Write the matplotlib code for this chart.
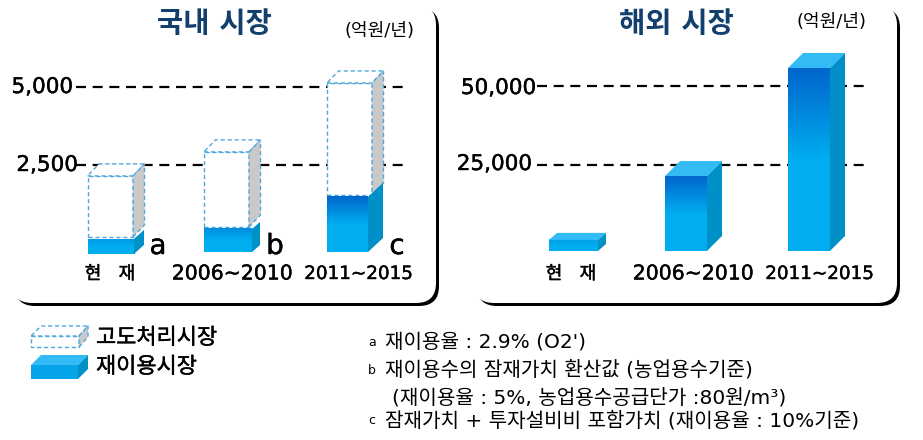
import matplotlib

matplotlib.use("Agg")
import matplotlib.patheffects as pe
import matplotlib.pyplot as plt
import numpy as np
from matplotlib.colors import LinearSegmentedColormap
from matplotlib.patches import FancyBboxPatch, Polygon, Rectangle

plt.rcParams["font.family"] = ["DejaVu Sans", "Noto Sans CJK KR"]

W, H = 923, 440

periods = ["현   재", "2006~2010", "2011~2015"]
bar_notes = ["a", "b", "c"]

# domestic market, 억원/년
dom_ticks = [2500, 5000]
dom_tick_labels = ["2,500", "5,000"]
dom_total = [2150, 2920, 5130]
dom_reuse = [130, 450, 1480]
dom_base = [-350, -290, -290]

# overseas market, 억원/년
ovs_ticks = [25000, 50000]
ovs_tick_labels = ["25,000", "50,000"]
ovs_values = [1300, 21500, 55700]
ovs_base = [-2200, -2200, -2200]

legend_labels = ["고도처리시장", "재이용시장"]
notes = [
    ("a", "재이용율 : 2.9% (O2')"),
    ("b", "재이용수의 잠재가치 환산값 (농업용수기준)"),
    ("", "(재이용율 : 5%, 농업용수공급단가 :80원/m³)"),
    ("c", "잠재가치 + 투자설비비 포함가치 (재이용율 : 10%기준)"),
]

# layout, in reference pixels
dom_x = [(87.5, 133), (204, 249), (327, 372)]
dom_reuse_x = [(87.5, 134), (204, 252), (327, 368)]
dom_reuse_depth = [(10, 9), (8, 7), (15, 14)]
dom_rim = 2  # the dashed box starts a little above the blue front
ovs_x = [(549, 598), (665, 707), (788, 830)]
ovs_depth = [(8, 7), (15, 15), (15, 15)]

NAVY = "#123F6D"
TOP = "#33BBF5"
SIDE = "#0090C8"
GRAY = "#C9C9C9"
DASH = "#4FA8DC"
DASHES = (0, (3, 2))
DARK, LIGHT = np.array([0.0, 0.40, 0.80]), np.array([0.0, 0.68, 0.94])
THICK = [pe.withStroke(linewidth=0.3, foreground="black")]

fig = plt.figure(figsize=(W / 100, H / 100), dpi=100)
bg = fig.add_axes([0, 0, 1, 1])
bg.set_xlim(0, W)
bg.set_ylim(H, 0)
bg.axis("off")


def panel_box(x0, x1, y0, y1):
    pad = "round,pad=0,rounding_size=20"
    bg.add_patch(FancyBboxPatch((x0, y0), x1 - x0, y1 - y0, boxstyle=pad, fc="black", ec="none"))
    bg.add_patch(FancyBboxPatch((x0 - 3, y0 - 3), x1 - x0, y1 - y0, boxstyle=pad, fc="white", ec="none"))


def make_panel(x0, x1, ticks, rows):
    # ticks sit at known pixel rows, the rest of the scale follows from them
    per_px = (ticks[1] - ticks[0]) / (rows[0] - rows[1])
    ax = fig.add_axes([x0 / W, 1 - 300 / H, (x1 - x0) / W, 300 / H])
    ax.axis("off")
    ax.patch.set_alpha(0)
    return ax, per_px


def set_limits(ax, x0, x1, tick, row, per_px):
    ax.set_xlim(x0, x1)
    ax.set_ylim(tick - (300 - row) * per_px, tick + row * per_px)


def solid_box(ax, x0, x1, base, top, dx, dy, per_px, top_face=True):
    # dark at the top of the face, light further down; short bars stay lighter
    strength = min(1.0, (top - base) / (50 * per_px))
    start = DARK * strength + LIGHT * (1 - strength)
    cmap = LinearSegmentedColormap.from_list("face", [start, LIGHT, LIGHT], N=128)
    grad = np.linspace(0, 1, 128).reshape(-1, 1)
    ax.imshow(grad, cmap=cmap, extent=(x0, x1, base, top), origin="upper", aspect="auto", zorder=3)
    if top_face:
        ax.add_patch(Polygon([(x0, top), (x1, top), (x1 + dx, top + dy * per_px), (x0 + dx, top + dy * per_px)], fc=TOP, ec="none", zorder=3))
    ax.add_patch(Polygon([(x1, base), (x1 + dx, base + dy * per_px), (x1 + dx, top + dy * per_px), (x1, top)], fc=SIDE, ec="none", zorder=3))


def dashed_box(ax, x0, x1, bottom, top, dx, dy):
    ax.add_patch(Rectangle((x0, bottom), x1 - x0, top - bottom, fc="white", ec=DASH, lw=1, ls=DASHES, zorder=2))
    ax.add_patch(Polygon([(x0, top), (x1, top), (x1 + dx, top + dy), (x0 + dx, top + dy)], fc="white", ec=DASH, lw=1, ls=DASHES, zorder=2))
    ax.add_patch(Polygon([(x1, bottom), (x1 + dx, bottom + dy), (x1 + dx, top + dy), (x1, top)], fc=GRAY, ec=DASH, lw=1, ls=DASHES, zorder=2))


panel_box(15, 439, 8, 306)
panel_box(477, 900, 8, 306)

# left panel
ax1, per1 = make_panel(0, 450, dom_ticks, (165, 87))
ax1.hlines(dom_ticks, 76, 404, color="black", lw=1.6, ls=(0, (4.5, 3)), zorder=1)
for i in range(3):
    x0, x1 = dom_x[i]
    dashed_box(ax1, x0, x1, dom_reuse[i] + dom_rim * per1, dom_total[i], 11.5, 12 * per1)
    rx0, rx1 = dom_reuse_x[i]
    dx, dy = dom_reuse_depth[i]
    solid_box(ax1, rx0, rx1, dom_base[i], dom_reuse[i], dx, dy, per1, top_face=False)
set_limits(ax1, 0, 450, dom_ticks[0], 165, per1)

# right panel
ax2, per2 = make_panel(450, 923, ovs_ticks, (165, 86))
ax2.hlines(ovs_ticks, 537, 866, color="black", lw=1.6, ls=(0, (4.5, 3)), zorder=1)
for i in range(3):
    x0, x1 = ovs_x[i]
    dx, dy = ovs_depth[i]
    solid_box(ax2, x0, x1, ovs_base[i], ovs_values[i], dx, dy, per2)
set_limits(ax2, 450, 923, ovs_ticks[0], 165, per2)

# titles and units
fg = fig.add_axes([0, 0, 1, 1])
fg.set_xlim(0, W)
fg.set_ylim(H, 0)
fg.axis("off")
fg.patch.set_alpha(0)

fg.text(214, 24, "국내 시장", color=NAVY, fontsize=20.5, fontweight="bold", ha="center", va="center")
fg.text(676, 24, "해외 시장", color=NAVY, fontsize=20.5, fontweight="bold", ha="center", va="center")
fg.text(379, 31, "(억원/년)", fontsize=13, ha="center", va="center")
fg.text(832, 22, "(억원/년)", fontsize=13, ha="center", va="center")

for label, y, x in zip(dom_tick_labels, (165, 87), (78, 73)):
    fg.text(x, y, label, fontsize=15.5, ha="right", va="center", path_effects=THICK)
for label, y, x in zip(ovs_tick_labels, (164, 88), (532, 536)):
    fg.text(x, y, label, fontsize=15.5, ha="right", va="center", path_effects=THICK)

size = {periods[0]: 13, periods[1]: 14.7, periods[2]: 13.2}
for label, x in zip(periods, (110, 232, 359)):
    fg.text(x, 274, label, fontsize=size[label], ha="center", va="center", path_effects=THICK)
for label, x in zip(periods, (571, 693, 820)):
    fg.text(x, 274, label, fontsize=size[label], ha="center", va="center", path_effects=THICK)
for label, x in zip(bar_notes, (158, 275, 397)):
    fg.text(x, 246, label, fontsize=20, ha="center", va="center", path_effects=THICK)

# legend
fg.add_patch(Rectangle((31, 336), 48, 11, fc="white", ec=DASH, lw=1, ls=DASHES))
fg.add_patch(Polygon([(31, 336), (79, 336), (88, 326), (41, 326)], fc="white", ec=DASH, lw=1, ls=DASHES))
fg.add_patch(Polygon([(79, 347), (88, 337), (88, 326), (79, 336)], fc=GRAY, ec=DASH, lw=1, ls=DASHES))
fg.add_patch(Rectangle((31, 365), 47, 14, fc="#06A4E8", ec="none"))
fg.add_patch(Polygon([(31, 365), (78, 365), (88, 355), (41, 355)], fc=TOP, ec="none"))
fg.add_patch(Polygon([(78, 379), (88, 369), (88, 355), (78, 365)], fc=SIDE, ec="none"))
fg.text(96, 338, legend_labels[0], fontsize=15.8, va="center", path_effects=THICK)
fg.text(96, 367, legend_labels[1], fontsize=15.8, va="center", path_effects=THICK)

# footnotes
for (mark, text), y, x in zip(notes, (342, 370, 398, 421), (385, 385, 392, 385)):
    if mark:
        fg.text(368, y, mark, fontsize=9, va="center")
    fg.text(x, y, text, fontsize=14.5, va="center")

fig.savefig("out.png", dpi=100, facecolor="white")
